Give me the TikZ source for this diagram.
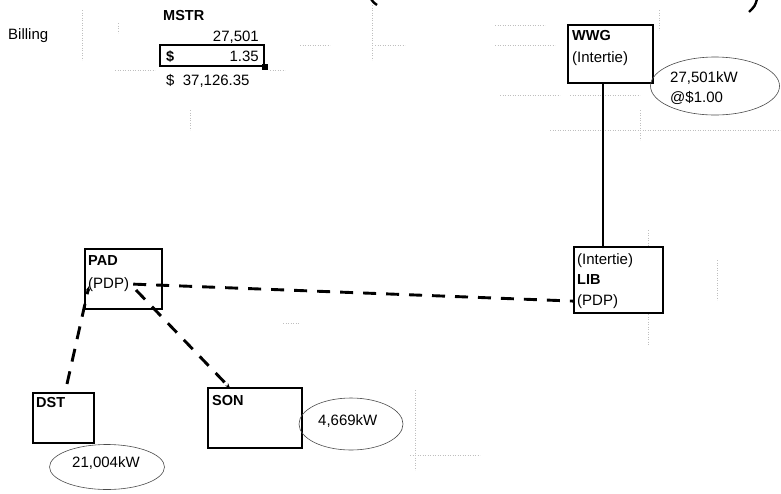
\documentclass[tikz,border=0pt]{standalone}
\usepackage{fontspec}
\setmainfont{Liberation Sans}
\usetikzlibrary{shapes.geometric,arrows.meta}
\begin{document}
\begin{tikzpicture}[x=1pt,y=-1pt,
  boxnode/.style={draw=black,line width=1.2pt,rectangle,inner sep=0pt},
  lbl/.style={inner sep=0pt,anchor=base west,font=\fontsize{15}{18}\selectfont},
  blbl/.style={inner sep=0pt,anchor=base west,font=\fontsize{14.5}{18}\selectfont\bfseries},
  kwell/.style={draw=black!70,line width=0.6pt,ellipse,inner sep=0pt},
  dashline/.style={line width=2.9pt,dash pattern=on 13pt off 10pt},
  grid/.style={draw=black!25,line width=0.5pt,dotted}
]
\useasboundingbox (0,0) rectangle (781,493);
\fill[white] (0,0) rectangle (781,493);

% faint spreadsheet grid fragments
\begin{scope}[grid]
\draw (82,10) -- (82,60);
\draw (118,23) -- (118,33);
\draw (115,70) -- (155,70);
\draw (270,70) -- (285,70);
\draw (190,110) -- (190,130);
\draw (300,45) -- (330,45);
\draw (372,5) -- (372,60);
\draw (375,45) -- (405,45);
\draw (495,25) -- (545,25);
\draw (495,45) -- (555,45);
\draw (659,10) -- (659,30);
\draw (500,95) -- (560,95);
\draw (570,95) -- (640,95);
\draw (640,110) -- (640,140);
\draw (550,130) -- (780,130);
\draw (648,230) -- (648,246);
\draw (648,314) -- (648,345);
\draw (717,260) -- (717,300);
\draw (410,455) -- (480,455);
\draw (415,390) -- (415,470);
\draw (283,323) -- (300,323);
\end{scope}

% cut-off large parentheses at top edge
\draw[line width=2.4pt] (371,-1) .. controls (373,2) .. (377,5);
\draw[line width=2.4pt] (757,-1) .. controls (755,6) .. (749,12);

% billing table
\node[lbl] (billing) at (8,39) {Billing};
\node[blbl] (mstr) at (163,20) {MSTR};
\node[lbl,anchor=base east] (kw) at (259,41) {27,501};
\node[draw=black,line width=2.6pt,minimum width=104pt,minimum height=21pt,inner sep=0pt] (rate) at (212,55.5) {};
\node[blbl] (dollar) at (166,61) {\$};
\node[lbl,anchor=base east] (ratev) at (259,61) {1.35};
\fill[black] (262,64) rectangle (268,70);
\node[lbl] (total) at (166,85) {\$\ \ 37,126.35};

% boxes
\node[boxnode,minimum width=85pt,minimum height=58pt] (WWG) at (610.5,54) {};
\node[boxnode,minimum width=89pt,minimum height=66pt] (LIB) at (618.5,280) {};
\node[boxnode,minimum width=77pt,minimum height=60pt] (PAD) at (123.5,279) {};
\node[boxnode,minimum width=61pt,minimum height=50pt] (DST) at (63.5,418) {};
\node[boxnode,minimum width=94pt,minimum height=60pt] (SON) at (255,418) {};

% box texts
\node[blbl] (WWGt) at (572,40) {WWG};
\node[lbl] (WWGs) at (572,62) {(Intertie)};
\node[lbl] (LIBi) at (577,264) {(Intertie)};
\node[blbl] (LIBt) at (577,284) {LIB};
\node[lbl] (LIBp) at (577,305) {(PDP)};
\node[blbl] (PADt) at (88,265) {PAD};
\node[lbl] (PADp) at (88,288) {(PDP)};
\node[blbl] (DSTt) at (36,407) {DST};
\node[blbl] (SONt) at (212,405) {SON};

% ellipses
\node[kwell,minimum width=129pt,minimum height=58pt] (e1) at (715,86) {};
\node[kwell,minimum width=115pt,minimum height=45pt] (e2) at (107,467) {};
\node[kwell,minimum width=104pt,minimum height=52pt] (e3) at (351,424) {};
\node[lbl] (e1a) at (670,82) {27,501kW};
\node[lbl] (e1b) at (670,102) {@\$1.00};
\node[lbl] (e2t) at (72,467) {21,004kW};
\node[lbl] (e3t) at (318,425) {4,669kW};

% connectors
\coordinate (vx) at (603,0);
\draw[line width=2.8pt] (WWG.south -| vx) -- (LIB.north -| vx);
\draw[dashline] ([xshift=4pt]PADp.east) -- ([xshift=-3pt]LIBp.west);
\draw[dashline,-{Stealth[length=5pt,width=4pt]}] (67,384) -- (89,286);
\draw[dashline,-{Stealth[length=5pt,width=4pt]}] (136,290) -- (230,388);
\end{tikzpicture}
\end{document}
